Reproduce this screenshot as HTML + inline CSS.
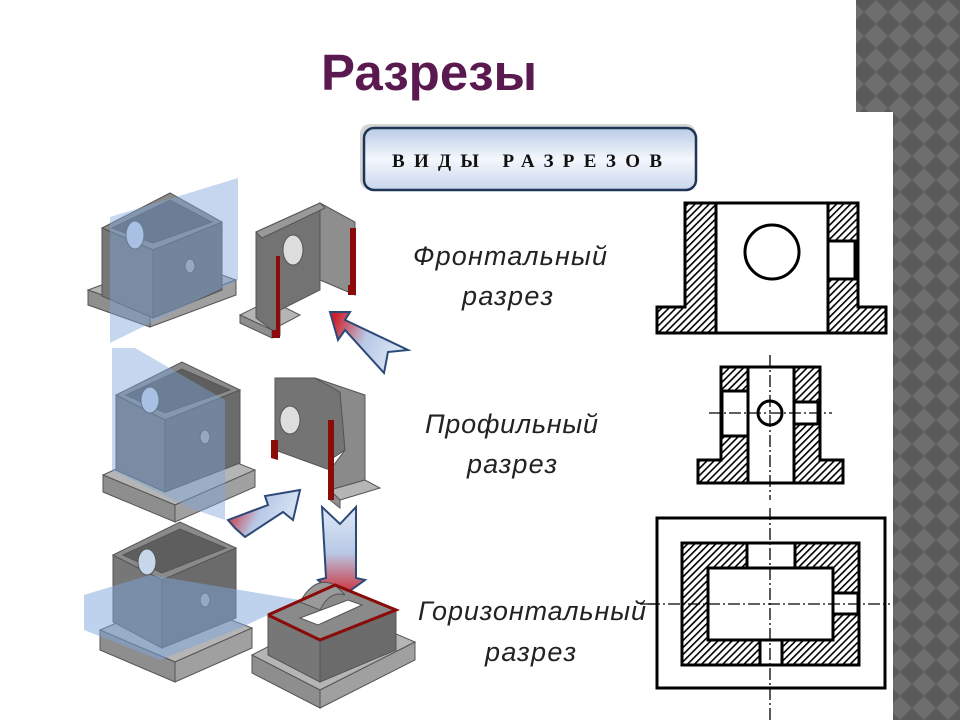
<!DOCTYPE html>
<html><head><meta charset="utf-8"><style>
html,body{margin:0;padding:0;background:#fff;}
svg{display:block;}
</style></head><body>
<svg width="960" height="720" viewBox="0 0 960 720" xmlns="http://www.w3.org/2000/svg">
<defs>
<pattern id="chk" x="0" y="0" width="24" height="24" patternUnits="userSpaceOnUse">
<rect width="24" height="24" fill="#5a5a5a"/>
<polygon points="12,0 24,12 12,24 0,12" fill="#6e6e6e"/>
</pattern>
<pattern id="h" width="5" height="5" patternUnits="userSpaceOnUse" patternTransform="rotate(45)">
<rect width="5" height="5" fill="#fff"/><rect width="1.6" height="5" fill="#000"/>
</pattern>
<linearGradient id="btn" x1="0" y1="0" x2="0" y2="1">
<stop offset="0" stop-color="#b9cbe6"/><stop offset="0.5" stop-color="#f4f7fc"/><stop offset="1" stop-color="#c8d6ec"/>
</linearGradient>
<linearGradient id="ar1" x1="1" y1="0.6" x2="0" y2="0.3">
<stop offset="0" stop-color="#dfe8f6"/><stop offset="0.55" stop-color="#b8c9e6"/><stop offset="1" stop-color="#d0202a"/>
</linearGradient>
<linearGradient id="ar3" x1="0" y1="0" x2="0" y2="1">
<stop offset="0" stop-color="#dfe8f6"/><stop offset="0.5" stop-color="#b8c9e6"/><stop offset="1" stop-color="#d0202a"/>
</linearGradient>
</defs>

<rect x="856" y="0" width="104" height="112" fill="url(#chk)"/>
<rect x="893" y="0" width="67" height="720" fill="url(#chk)"/>

<text x="321" y="90" font-family="Liberation Sans, sans-serif" font-weight="bold" font-size="51" fill="#5a1a4f">Разрезы</text>

<rect x="360" y="124" width="336" height="66" rx="10" fill="#888" opacity="0.35"/>
<rect x="364" y="128" width="332" height="62" rx="10" fill="url(#btn)" stroke="#1f3557" stroke-width="2.5"/>
<text x="392" y="167" font-family="Liberation Serif, serif" font-weight="bold" font-size="19" textLength="270" lengthAdjust="spacing" fill="#111">ВИДЫ  РАЗРЕЗОВ</text>

<g font-family="Liberation Sans, sans-serif" font-style="italic" font-size="27" fill="#222">
<text x="413" y="265" textLength="194">Фронтальный</text>
<text x="462" y="305" textLength="91">разрез</text>
<text x="425" y="433" textLength="173">Профильный</text>
<text x="467" y="473" textLength="90">разрез</text>
<text x="418" y="620" textLength="228">Горизонтальный</text>
<text x="485" y="661" textLength="91">разрез</text>
</g>

<g stroke="#000" stroke-width="3">
<polygon points="685,203 716,203 716,333 657,333 657,307 685,307" fill="url(#h)"/>
<polygon points="828,203 858,203 858,307 886,307 886,333 828,333" fill="url(#h)"/>
<rect x="828" y="241" width="27" height="38" fill="#fff"/>
<rect x="716" y="203" width="112" height="130" fill="#fff"/>
<circle cx="772" cy="252" r="27" fill="none"/>
</g>

<g stroke="#000" stroke-width="3">
<polygon points="721,367 748,367 748,483 698,483 698,460 721,460" fill="url(#h)"/>
<polygon points="794,367 820,367 820,460 843,460 843,483 794,483" fill="url(#h)"/>
<rect x="722" y="391" width="26" height="45" fill="#fff"/>
<rect x="794" y="402" width="24" height="22" fill="#fff"/>
<rect x="748" y="367" width="46" height="116" fill="#fff"/>
<circle cx="770" cy="413" r="12" fill="none"/>
</g>
<g stroke="#000" stroke-width="1.3" stroke-dasharray="12,3,2,3" fill="none">
<line x1="770" y1="355" x2="770" y2="500"/>
<line x1="709" y1="413" x2="832" y2="413"/>
</g>

<g stroke="#000" stroke-width="3">
<rect x="657" y="518" width="228" height="170" fill="#fff"/>
<rect x="682" y="543" width="177" height="122" fill="url(#h)"/>
<rect x="708" y="568" width="125" height="72" fill="#fff"/>
<rect x="747" y="543" width="48" height="25" fill="#fff"/>
<rect x="760" y="640" width="22" height="25" fill="#fff"/>
<rect x="833" y="593" width="25" height="21" fill="#fff"/>
</g>
<g stroke="#000" stroke-width="1.3" stroke-dasharray="12,3,2,3" fill="none">
<line x1="770" y1="508" x2="770" y2="720"/>
<line x1="648" y1="604" x2="890" y2="604"/>
</g>
<line x1="640" y1="604" x2="657" y2="604" stroke="#000" stroke-width="1.3"/>

<g stroke="#555" stroke-width="1">
<polygon points="88,290 175,258 236,280 150,312" fill="#b5b5b5"/>
<polygon points="88,290 150,312 150,327 88,305" fill="#8e8e8e"/>
<polygon points="150,312 236,280 236,295 150,327" fill="#a0a0a0"/>
<polygon points="102,228 153,250 153,318 102,296" fill="#777"/>
<polygon points="153,250 222,222 222,290 153,318" fill="#6b6b6b"/>
<polygon points="102,228 170,193 222,222 153,250" fill="#8a8a8a"/>
<polygon points="112,228 170,200 212,222 153,243" fill="#5e5e5e"/>
<ellipse cx="135" cy="235" rx="9" ry="14" fill="#c8d6ea"/>
<ellipse cx="190" cy="266" rx="5" ry="7" fill="#aaa"/>
</g>
<polygon points="110,217 238,178 238,280 110,343" fill="#7fa6dc" opacity="0.45"/>

<g stroke="#555" stroke-width="1">
<polygon points="240,315 270,300 300,315 272,330" fill="#b5b5b5"/>
<polygon points="240,315 272,330 272,338 240,323" fill="#8e8e8e"/>
<polygon points="256,232 320,203 320,290 280,310 280,335 272,330 256,318" fill="#737373"/>
<polygon points="320,203 355,222 355,295 320,280" fill="#8e8e8e"/>
<polygon points="256,232 320,203 325,208 262,238" fill="#999"/>
<ellipse cx="293" cy="250" rx="10" ry="15" fill="#ddd"/>
</g>
<polygon points="276,256 280,256 280,338 272,338 272,330 276,330" fill="#8b0a0a"/>
<polygon points="350,228 356,228 356,295 348,295 348,285 350,285" fill="#8b0a0a"/>

<polygon points="330,312 350,312 345,320 408,350 388,352 384,373 345,330 338,340" fill="url(#ar1)" stroke="#2c4a78" stroke-width="2"/>

<g stroke="#555" stroke-width="1">
<polygon points="103,475 180,440 255,470 175,505" fill="#b5b5b5"/>
<polygon points="103,475 175,505 175,522 103,492" fill="#8e8e8e"/>
<polygon points="175,505 255,470 255,487 175,522" fill="#a0a0a0"/>
<polygon points="116,395 165,420 165,492 116,470" fill="#777"/>
<polygon points="165,420 240,390 240,463 165,492" fill="#6b6b6b"/>
<polygon points="116,395 182,362 240,390 165,420" fill="#8a8a8a"/>
<polygon points="126,395 182,369 230,390 165,413" fill="#5e5e5e"/>
<ellipse cx="150" cy="400" rx="9" ry="13" fill="#c8d6ea"/>
<ellipse cx="205" cy="437" rx="5" ry="7" fill="#aaa"/>
</g>
<polygon points="112,348 135,348 225,400 225,520 190,508 112,470" fill="#7fa6dc" opacity="0.45"/>

<g stroke="#555" stroke-width="1">
<polygon points="275,378 315,378 340,392 345,450 330,460 330,470 275,450" fill="#747474"/>
<polygon points="315,378 365,395 365,480 330,490 330,470 345,450 340,392" fill="#8a8a8a"/>
<polygon points="330,490 365,480 380,488 340,500" fill="#b5b5b5"/>
<polygon points="330,490 340,500 340,508 330,500" fill="#8e8e8e"/>
<ellipse cx="290" cy="420" rx="10" ry="14" fill="#ddd"/>
</g>
<polygon points="271,440 278,440 278,460 271,458" fill="#8b0a0a"/>
<polygon points="328,420 334,420 334,500 328,500" fill="#8b0a0a"/>

<polygon points="228,520 268,505 265,496 300,490 293,520 283,512 245,537 235,528" fill="url(#ar1)" stroke="#2c4a78" stroke-width="2"/>

<polygon points="322,507 340,524 356,507 356,578 365,580 340,598 318,580 326,578" fill="url(#ar3)" stroke="#2c4a78" stroke-width="2"/>

<g stroke="#555" stroke-width="1">
<polygon points="100,630 175,598 252,628 175,662" fill="#b5b5b5"/>
<polygon points="100,630 175,662 175,682 100,650" fill="#8e8e8e"/>
<polygon points="175,662 252,628 252,648 175,682" fill="#a0a0a0"/>
<polygon points="113,555 162,580 162,648 113,622" fill="#777"/>
<polygon points="162,580 236,548 236,618 162,648" fill="#6b6b6b"/>
<polygon points="113,555 180,522 236,548 162,580" fill="#8a8a8a"/>
<polygon points="123,555 180,529 226,548 162,573" fill="#5e5e5e"/>
<ellipse cx="147" cy="562" rx="9" ry="13" fill="#c8d6ea"/>
<ellipse cx="205" cy="600" rx="5" ry="7" fill="#aaa"/>
</g>
<polygon points="84,595 150,575 300,600 240,628 160,660 84,630" fill="#7fa6dc" opacity="0.5"/>

<g stroke="#555" stroke-width="1">
<polygon points="252,655 340,610 415,642 320,690" fill="#b5b5b5"/>
<polygon points="252,655 320,690 320,708 252,673" fill="#8e8e8e"/>
<polygon points="320,690 415,642 415,660 320,708" fill="#a0a0a0"/>
<polygon points="268,615 320,640 320,682 268,655" fill="#777"/>
<polygon points="320,640 396,610 396,650 320,682" fill="#6b6b6b"/>
<polygon points="268,615 335,585 396,610 320,640" fill="#8a8a8a"/>
<polygon points="300,618 348,600 362,605 318,625" fill="#fff"/>
<path d="M300,602 Q315,575 335,585 L345,595 Q330,590 320,610 Z" fill="#9a9a9a"/>
</g>
<polyline points="268,615 335,585 396,610 320,640 268,615" fill="none" stroke="#8b0a0a" stroke-width="3"/>
</svg>
</body></html>
